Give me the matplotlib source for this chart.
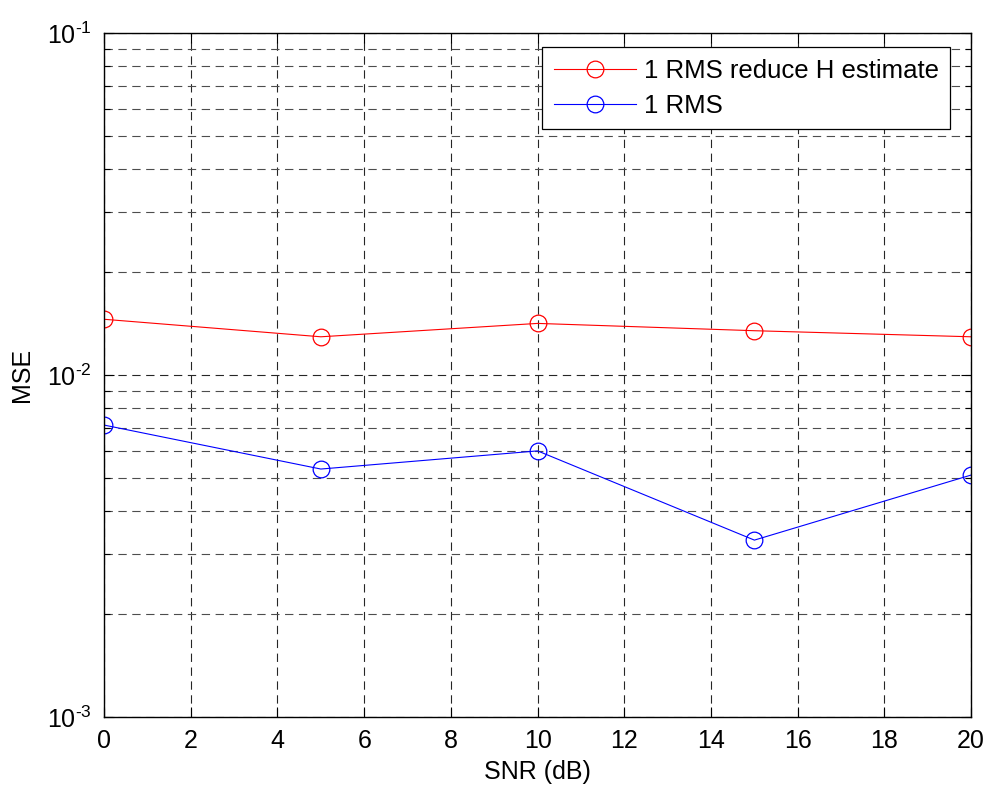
import math
import matplotlib
matplotlib.use("Agg")
import matplotlib.pyplot as plt
from matplotlib.ticker import LogLocator, FixedLocator, FuncFormatter

plt.rcParams['font.family'] = ['Liberation Sans', 'DejaVu Sans']
plt.rcParams['mathtext.fontset'] = 'custom'
plt.rcParams['mathtext.rm'] = 'Liberation Sans'
plt.rcParams['mathtext.it'] = 'Liberation Sans'
plt.rcParams['axes.unicode_minus'] = False

snr = [0, 5, 10, 15, 20]
mse_reduce_h = [0.01456, 0.01294, 0.01416, 0.01348, 0.01294]
mse_rms = [0.00714, 0.00531, 0.00600, 0.00329, 0.00510]

x_ticks = [0, 2, 4, 6, 8, 10, 12, 14, 16, 18, 20]

fig = plt.figure(figsize=(9.91, 7.90), dpi=100)
ax = fig.add_axes([0.105, 0.0925, 0.875, 0.8655])

ax.plot(snr, mse_reduce_h, '-o', color='red', lw=0.8, ms=12,
        mfc='none', mew=0.9, label='1 RMS reduce H estimate')
ax.plot(snr, mse_rms, '-o', color='blue', lw=0.8, ms=12,
        mfc='none', mew=0.9, label='1 RMS')

ax.set_yscale('log')
ax.set_xlim(0, 20)
ax.set_ylim(1e-3, 1e-1)
ax.xaxis.set_major_locator(FixedLocator(x_ticks))
ax.yaxis.set_major_locator(LogLocator(base=10, numticks=10))
ax.yaxis.set_minor_locator(LogLocator(base=10, subs=range(2, 10), numticks=20))
ax.yaxis.set_minor_formatter(FuncFormatter(lambda v, p: ''))
ax.yaxis.set_major_formatter(
    FuncFormatter(lambda v, p: r'$10^{\text{-}%d}$' % abs(round(math.log10(v)))))

ax.grid(True, which='major', axis='both', color='0.15', ls=(0, (7.5, 5)), lw=0.8)
ax.grid(True, which='minor', axis='y', color='0.3', ls=(0, (7.5, 5)), lw=0.8)

ax.tick_params(which='both', direction='in', top=True, right=True,
               labelsize=18, width=0.8, colors='black')
ax.tick_params(which='major', length=7, pad=9)
ax.tick_params(which='minor', length=4)
for s in ax.spines.values():
    s.set_linewidth(1.0)

ax.set_xlabel('SNR (dB)', fontsize=18, labelpad=5)
ax.set_ylabel('MSE', fontsize=18, labelpad=9)

leg = ax.legend(loc='upper right', bbox_to_anchor=(0.9758, 0.9795),
                fontsize=18.5, handlelength=3.2,
                fancybox=False, framealpha=1, edgecolor='black',
                borderaxespad=0, labelspacing=0.42, handletextpad=0.3,
                borderpad=0.45)
leg.get_frame().set_linewidth(0.9)

fig.savefig('out.png', dpi=100)
